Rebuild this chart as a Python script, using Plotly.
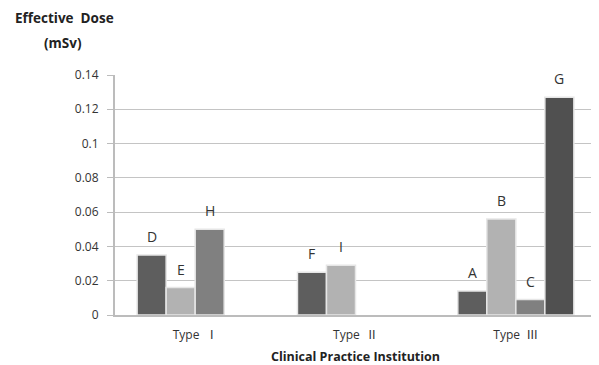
import plotly.graph_objects as go

categories = ["Type  Ⅰ", "Type  Ⅱ", "Type  Ⅲ"]
s1_values = [0.035, 0.025, 0.014]
s1_labels = ["D", "F", "A"]
s2_values = [0.016, 0.029, 0.056]
s2_labels = ["E", "I", "B"]
s3_values = [0.050, None, 0.009]
s3_labels = ["H", "", "C"]
s4_values = [None, None, 0.127]
s4_labels = ["", "", "G"]
y_ticks = [0, 0.02, 0.04, 0.06, 0.08, 0.1, 0.12, 0.14]
y_tick_text = ["0", "0.02", "0.04", "0.06", "0.08", "0.1", "0.12", "0.14"]

series = [
    (s1_values, s1_labels, "#5e5e5e"),
    (s2_values, s2_labels, "#b2b2b2"),
    (s3_values, s3_labels, "#808080"),
    (s4_values, s4_labels, "#505050"),
]

font_family = "Open Sans, Noto Sans CJK KR, sans-serif"

W, H = 591, 357
ML, MR, MT, MB = 107, 3, 67, 50
BARGAP = 0.276
plot_w = W - ML - MR
plot_h = H - MT - MB
plot_bottom = MT + plot_h
slot_px = plot_w / 3 * (1 - BARGAP) / 4

fig = go.Figure()
for i, (vals, labels, color) in enumerate(series):
    fig.add_trace(go.Bar(
        x=categories, y=vals,
        marker=dict(color=color, line=dict(color="#e6e6e6", width=1.5)),
        showlegend=False,
    ))
    for c, v, lab in zip(categories, vals, labels):
        if v is None or not lab:
            continue
        fig.add_annotation(x=c, y=v, text=lab, showarrow=False,
                           xshift=(i - 1.5) * slot_px, yshift=7, yanchor="bottom",
                           font=dict(size=14, color="#333333", family=font_family))

fig.update_layout(
    width=W, height=H,
    margin=dict(l=ML, r=MR, t=MT, b=MB),
    paper_bgcolor="white", plot_bgcolor="white",
    barmode="group", bargap=BARGAP, bargroupgap=0,
    font=dict(family=font_family, color="#333333"),
)
fig.update_xaxes(
    showline=True, linecolor="#bcbcbc", linewidth=2,
    ticks="", tickfont=dict(size=12, color="#333333"), ticklabelstandoff=8,
    title=dict(text="<b>Clinical Practice Institution</b>", font=dict(size=12.5, color="#222222"), standoff=10),
)
fig.update_yaxes(
    range=[0, 0.14], tickvals=y_ticks, ticktext=y_tick_text,
    showline=True, linecolor="#bcbcbc", linewidth=2,
    ticks="outside", ticklen=6, tickcolor="#bcbcbc",
    ticklabelstandoff=6,
    showgrid=True, gridcolor="#c4c4c4", gridwidth=1,
    tickfont=dict(size=12, color="#333333"), zeroline=False,
)
fig.add_annotation(text="<b>Effective  Dose</b>", xref="paper", yref="paper",
                   x=(5 - ML) / plot_w, y=(plot_bottom - 10) / plot_h,
                   xanchor="left", yanchor="middle",
                   showarrow=False, font=dict(size=13.5, color="#222222"))
fig.add_annotation(text="<b>(mSv)</b>", xref="paper", yref="paper",
                   x=(34 - ML) / plot_w, y=(plot_bottom - 35) / plot_h,
                   xanchor="left", yanchor="middle",
                   showarrow=False, font=dict(size=13.5, color="#222222"))

fig.write_html("out.html")
